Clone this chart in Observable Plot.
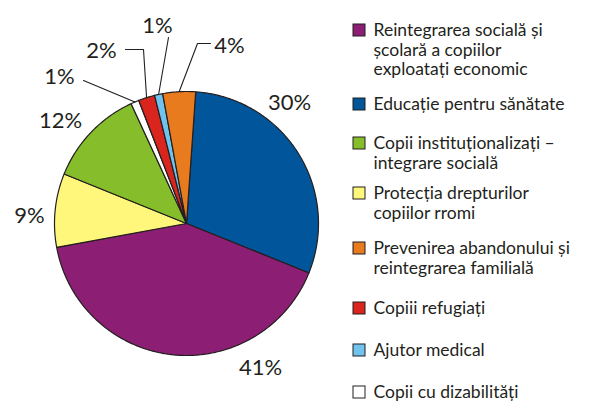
<!DOCTYPE html>
<html><head><meta charset="utf-8">
<script src="https://cdn.jsdelivr.net/npm/d3@7"></script>
<script src="https://cdn.jsdelivr.net/npm/@observablehq/plot@0.6"></script>
<style>html,body{margin:0;padding:0;background:#fff}</style>
</head><body><div id="chart"></div>
<script>
// Slices in drawing order, clockwise from the top
const categories = [
  "Educație pentru sănătate",
  "Reintegrarea socială și școlară a copiilor exploatați economic",
  "Protecția drepturilor copiilor rromi",
  "Copii instituționalizați – integrare socială",
  "Copii cu dizabilități",
  "Copiii refugiați",
  "Ajutor medical",
  "Prevenirea abandonului și reintegrarea familială"
];
const values = [30, 41, 9, 12, 1, 2, 1, 4];
const colors = ["#00559B", "#8C1F74", "#FFF77B", "#85BE2A", "#FFFFFF", "#D9251D", "#6FC3EC", "#E87B1E"];

// Legend (order and line breaks as in the reference)
const legendCategories = [
  "Reintegrarea socială și școlară a copiilor exploatați economic",
  "Educație pentru sănătate",
  "Copii instituționalizați – integrare socială",
  "Protecția drepturilor copiilor rromi",
  "Prevenirea abandonului și reintegrarea familială",
  "Copiii refugiați",
  "Ajutor medical",
  "Copii cu dizabilități"
];
const legendLines = [
  ["Reintegrarea socială și", "școlară a copiilor", "exploatați economic"],
  ["Educație pentru sănătate"],
  ["Copii instituționalizați –", "integrare socială"],
  ["Protecția drepturilor", "copiilor rromi"],
  ["Prevenirea abandonului și", "reintegrarea familială"],
  ["Copiii refugiați"],
  ["Ajutor medical"],
  ["Copii cu dizabilități"]
];

// ---- layout ----
const W = 590, H = 401;
const cx = 186, cy = 223, R = 132, startDeg = 4;
const ink = "#231f20";
// label placement relative to pie centre, per slice
const labelOffsets = [[103,-121],[74,144],[-157,-8],[-126,-103],[-127,-147],[-85,-173],[-29,-198],[43,-178]];
// leader lines (label-side points relative to centre), per slice; ends on the rim
const leaderStarts = [null, null, null, null, [[-103,-143]], [[-61,-174],[-43,-174]], [[-18,-186]], [[24,-180],[11,-180]]];
const legendY = [30, 104, 143, 193, 248, 308, 350, 392];
const legendLineH = 19.5;
const sqX = 353, sqS = 12, textX = 373;

const total = d3.sum(values);
const rad = d => d * Math.PI / 180;
const polar = (deg, r) => ({x: cx + r * Math.sin(rad(deg)), y: cy - r * Math.cos(rad(deg))});

const slicePts = [];
const mids = [];
let acc = 0;
categories.forEach((c, i) => {
  const a0 = startDeg + acc / total * 360;
  acc += values[i];
  const a1 = startDeg + acc / total * 360;
  mids.push((a0 + a1) / 2);
  slicePts.push({cat: c, x: cx, y: cy});
  const n = Math.max(2, Math.ceil((a1 - a0) * 2));
  for (let k = 0; k <= n; k++) {
    const p = polar(a0 + (a1 - a0) * k / n, R);
    slicePts.push({cat: c, ...p});
  }
});

const labels = categories.map((c, i) => ({
  text: values[i] + "%",
  x: cx + labelOffsets[i][0],
  y: cy + labelOffsets[i][1]
}));

const leaders = [];
categories.forEach((c, i) => {
  if (!leaderStarts[i]) return;
  leaderStarts[i].forEach(([dx, dy]) => leaders.push({cat: c, x: cx + dx, y: cy + dy}));
  leaders.push({cat: c, ...polar(mids[i], R)});
});

const legendSquares = legendCategories.map((c, i) => ({
  cat: c, x1: sqX, x2: sqX + sqS, y1: legendY[i] - sqS / 2, y2: legendY[i] + sqS / 2
}));
const legendText = [];
legendLines.forEach((lines, i) => lines.forEach((t, j) => legendText.push({text: t, x: textX, y: legendY[i] + j * legendLineH})));

const chart = Plot.plot({
  width: W, height: H, margin: 0,
  x: {domain: [0, W], range: [0, W], axis: null},
  y: {domain: [0, H], range: [0, H], axis: null},
  color: {domain: categories, range: colors},
  style: {fontFamily: "Lato, 'Open Sans', sans-serif", background: "#fff"},
  marks: [
    Plot.line(slicePts, {x: "x", y: "y", z: "cat", fill: "cat", stroke: ink, strokeWidth: 1.2, strokeLinejoin: "round", curve: "linear-closed"}),
    Plot.line(leaders, {x: "x", y: "y", z: "cat", stroke: ink, strokeWidth: 1.1}),
    Plot.text(labels, {x: "x", y: "y", text: "text", fontSize: 22, fill: ink}),
    Plot.rect(legendSquares, {x1: "x1", x2: "x2", y1: "y1", y2: "y2", fill: "cat", stroke: ink, strokeWidth: 1}),
    Plot.text(legendText, {x: "x", y: "y", text: "text", textAnchor: "start", fontSize: 17.5, fill: ink})
  ]
});
document.getElementById("chart").append(chart);
</script>
</body></html>
